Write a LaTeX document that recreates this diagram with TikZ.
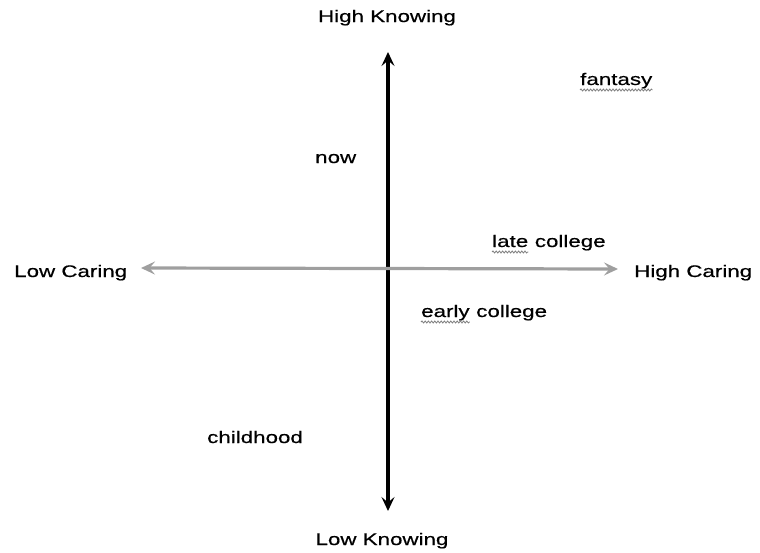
\documentclass[tikz,border=0pt]{standalone}
\usepackage{fontspec}
\setmainfont[FakeStretch=1.33,FakeBold=0.6]{Liberation Sans}
\usetikzlibrary{arrows.meta,decorations.pathmorphing}
\begin{document}
\begin{tikzpicture}[x=1pt,y=-1pt,
  lbl/.style={inner sep=0pt,font=\fontsize{16.8}{20}\selectfont,text=black},
  tip/.tip={Stealth[length=14pt,width=13pt,inset=5.5pt]},
  axis/.style={line width=3.2pt,{tip}-{tip}},
  squig/.style={gray,line width=0.8pt,decorate,decoration={snake,amplitude=1pt,segment length=3.2pt}}]
\useasboundingbox (0,0) rectangle (760,552);
% axes endpoints
\coordinate (vtop) at (388,52);
\coordinate (vbot) at (388,511);
\coordinate (hleft) at (141,268);
\coordinate (hright) at (618,269);
\draw[axis,black] (vbot) -- (vtop);
\draw[axis,gray!75] (hleft) -- (hright);
% labels
\node[lbl,anchor=base] (hk) at (387,22) {High Knowing};
\node[lbl,anchor=base] (lk) at (382,545) {Low Knowing};
\node[lbl,anchor=base west] (lc) at (14,277) {Low Caring};
\node[lbl,anchor=base west] (hc) at (634,277) {High Caring};
\node[lbl,anchor=base west] (fan) at (580,85) {fantasy};
\node[lbl,anchor=base west] (now) at (315,163) {now};
\node[lbl,anchor=base west] (late) at (492,247) {late};
\node[lbl,anchor=base west] (lcol) at ([xshift=6.2pt]late.base east) {college};
\node[lbl,anchor=base west] (early) at (421,317) {early};
\node[lbl,anchor=base west] (ecol) at ([xshift=6.2pt]early.base east) {college};
\node[lbl,anchor=base west] (child) at (207,443) {childhood};
% spelling squiggles
\draw[squig] ([yshift=-5pt]fan.base west) -- ([yshift=-5pt]fan.base east);
\draw[squig] ([yshift=-5pt]late.base west) -- ([yshift=-5pt]late.base east);
\draw[squig] ([yshift=-5pt]early.base west) -- ([yshift=-5pt]early.base east);
\end{tikzpicture}
\end{document}
